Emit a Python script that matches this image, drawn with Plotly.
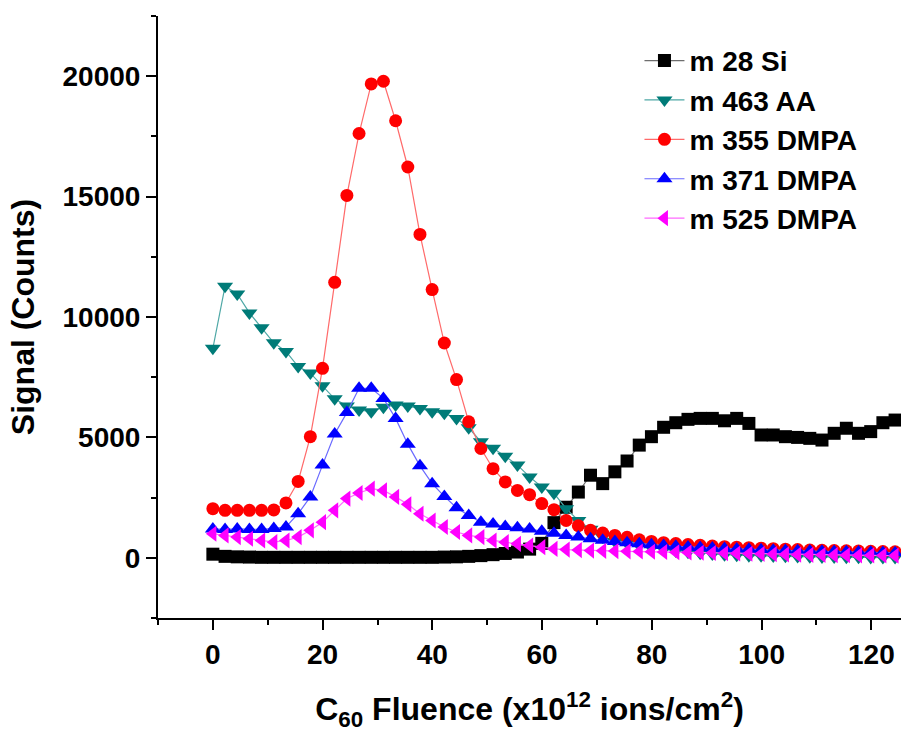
import plotly.graph_objects as go

fluence = [0, 2.22, 4.44, 6.66, 8.88, 11.1, 13.32, 15.54, 17.76, 19.98, 22.2, 24.42,
           26.64, 28.86, 31.08, 33.3, 35.52, 37.74, 39.96, 42.18, 44.4, 46.62, 48.84,
           51.06, 53.28, 55.5, 57.72, 59.94, 62.16, 64.38, 66.6, 68.82, 71.04, 73.26,
           75.48, 77.7, 79.92, 82.14, 84.36, 86.58, 88.8, 91.02, 93.24, 95.46, 97.68,
           99.9, 102.12, 104.34, 106.56, 108.78, 111.0, 113.22, 115.44, 117.66, 119.88,
           122.1, 124.32]

m28_si = [150, 60, 40, 30, 20, 20, 20, 20, 20, 20, 20, 20, 20, 20, 20, 20, 20, 20, 20,
          30, 40, 60, 90, 130, 180, 240, 360, 600, 1460, 2100, 2730, 3430, 3080, 3570,
          4020, 4680, 5030, 5420, 5610, 5750, 5790, 5790, 5690, 5790, 5580, 5100, 5100,
          5030, 5000, 4960, 4890, 5170, 5380, 5170, 5240, 5610, 5720]

m463_aa = [8700, 11280, 10960, 10170, 9550, 8930, 8570, 7940, 7670, 7140, 6600, 6300,
           6140, 6070, 6250, 6350, 6300, 6200, 6070, 6000, 5790, 5400, 4820, 4550, 4220,
           3850, 3360, 2940, 2680, 2040, 1550, 1190, 860, 680, 600, 510, 420, 350, 280,
           230, 190, 160, 130, 110, 90, 80, 70, 60, 50, 40, 30, 30, 20, 20, 10, 10, 10]

m355_dmpa = [2040, 1970, 1970, 1970, 1970, 1990, 2280, 3170, 5030, 7870, 11440, 15050,
             17620, 19680, 19790, 18150, 16230, 13430, 11140, 8920, 7400, 5650, 4540,
             3700, 3150, 2800, 2620, 2250, 2000, 1550, 1330, 1140, 1030, 930, 850, 750,
             680, 630, 590, 550, 520, 490, 460, 440, 420, 400, 380, 360, 340, 320, 310,
             300, 290, 280, 270, 260, 250]

m371_dmpa = [1200, 1180, 1200, 1180, 1180, 1220, 1280, 1830, 2530, 3850, 5140, 6030,
             7040, 7040, 6620, 5790, 4720, 3820, 3080, 2550, 2080, 1760, 1480, 1400, 1300,
             1250, 1200, 1100, 1020, 930, 860, 790, 730, 680, 630, 580, 540, 510, 480,
             450, 430, 410, 390, 370, 350, 330, 310, 300, 290, 280, 270, 260, 250, 240,
             230, 220, 210]

m525_dmpa = [1000, 930, 860, 790, 720, 650, 720, 860, 1140, 1480, 1970, 2460, 2690, 2870,
             2800, 2530, 2220, 1830, 1550, 1280, 1070, 930, 860, 720, 650, 580, 510, 440,
             370, 340, 320, 300, 290, 280, 270, 260, 250, 240, 230, 220, 210, 200, 190,
             180, 170, 160, 150, 140, 130, 120, 115, 110, 105, 100, 100, 95, 90]

series_names = ["m 28 Si", "m 463 AA", "m 355 DMPA", "m 371 DMPA", "m 525 DMPA"]
series_vals = [m28_si, m463_aa, m355_dmpa, m371_dmpa, m525_dmpa]
marker_colors = ["#000000", "#007B78", "#FF0000", "#0000FF", "#FF00FF"]
line_colors = ["#6E6E6E", "#4FA8A6", "#FF6A6A", "#6A6AFF", "#FF6AFF"]
symbols = ["square", "triangle-down", "circle", "triangle-up", "triangle-left"]
sizes = [13, 14, 13, 14, 14]

FONT = "Liberation Sans, Arial, sans-serif"

fig = go.Figure()
for name, vals, mc, lc, sym, sz in zip(series_names, series_vals, marker_colors,
                                       line_colors, symbols, sizes):
    fig.add_trace(go.Scatter(
        x=fluence, y=vals, mode="lines+markers", name=name,
        line=dict(color=lc, width=1.2),
        marker=dict(symbol=sym, size=sz, color=mc, line=dict(width=0)),
    ))

axis_common = dict(
    showgrid=False, zeroline=False, showline=True, linecolor="black", linewidth=2,
    ticks="outside", ticklen=10, tickwidth=2, tickcolor="black",
    tickfont=dict(family=FONT, size=28, color="black", weight="bold"),
    mirror=False, exponentformat="none", separatethousands=False,
)

fig.update_xaxes(
    range=[-10, 125.4], dtick=20, tick0=0,
    minor=dict(dtick=10, tick0=0, ticks="outside", ticklen=5, tickwidth=2, tickcolor="black"),
    title=dict(text="C<sub>60</sub> Fluence (x10<sup>12</sup> ions/cm<sup>2</sup>)",
               font=dict(family=FONT, size=32, color="black", weight="bold"), standoff=32),
    **axis_common,
)
fig.update_yaxes(
    range=[-2500, 22500], dtick=5000, tick0=0, tickformat="d",
    minor=dict(dtick=2500, tick0=0, ticks="outside", ticklen=5, tickwidth=2, tickcolor="black"),
    title=dict(text="Signal (Counts)",
               font=dict(family=FONT, size=32, color="black", weight="bold"), standoff=18),
    **axis_common,
)

fig.update_layout(
    width=901, height=732,
    margin=dict(l=158, r=0, t=16, b=114),
    paper_bgcolor="white", plot_bgcolor="white",
    showlegend=True,
    legend=dict(x=0.648, y=0.967, xanchor="left", yanchor="top",
                font=dict(family=FONT, size=28, color="black", weight="bold"),
                bgcolor="rgba(0,0,0,0)", borderwidth=0, tracegroupgap=0,
                itemwidth=40),
)

fig.write_html("out.html")
